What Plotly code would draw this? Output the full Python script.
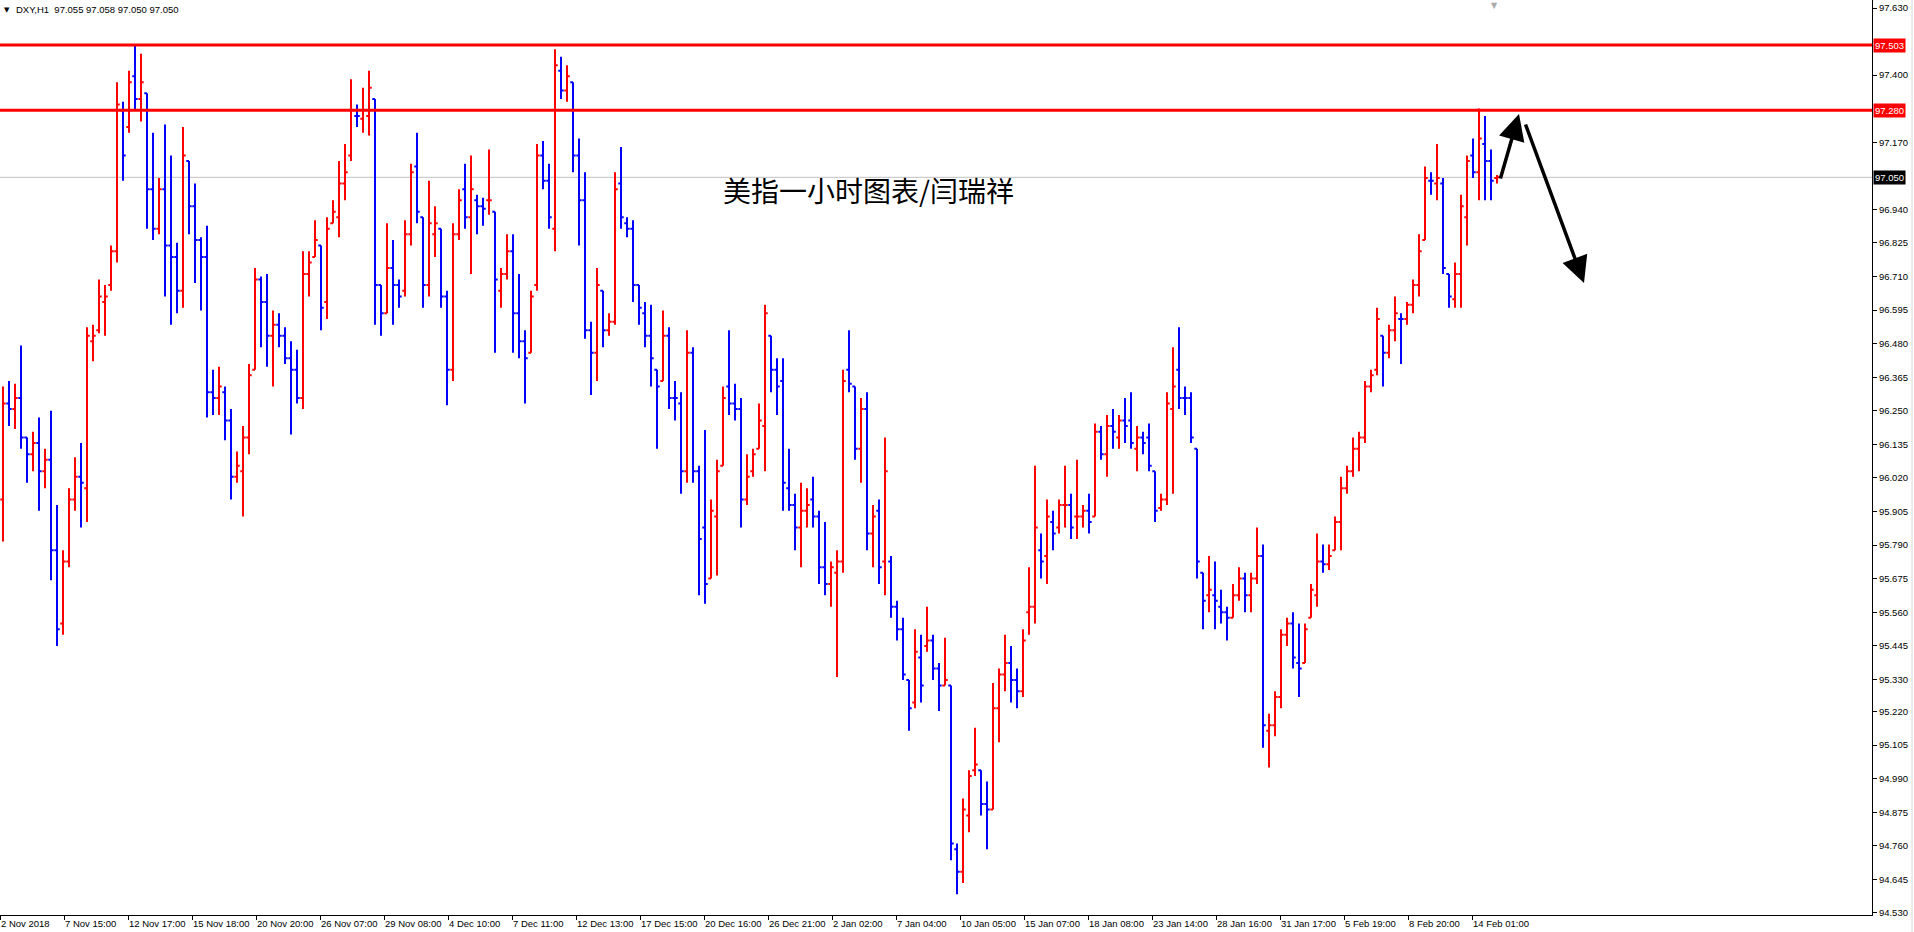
import plotly.graph_objects as go

# ---------------- data (DXY, H1 chart, condensed to one bar per 6 hourly bars) ----------------
bar_open = [
    95.946, 96.275, 96.256, 96.294, 96.159, 96.101, 96.140, 96.043, 96.082, 95.772,
    95.521, 95.734, 95.946, 96.024, 95.985, 96.488, 96.526, 96.623, 96.681, 96.797,
    97.280, 97.222, 97.396, 97.318, 97.338, 97.009, 96.874, 97.009, 96.816, 96.777,
    96.661, 97.106, 96.951, 96.835, 96.777, 96.314, 96.294, 96.314, 96.217, 96.024,
    96.043, 96.159, 96.391, 96.700, 96.623, 96.507, 96.545, 96.507, 96.430, 96.391,
    96.294, 96.719, 96.777, 96.816, 96.623, 96.893, 96.913, 97.029, 97.125, 97.260,
    97.251, 97.260, 97.318, 96.681, 96.584, 96.739, 96.681, 96.661, 96.855, 97.087,
    96.913, 96.681, 96.855, 96.874, 96.642, 96.391, 96.855, 97.009, 96.913, 96.971,
    96.951, 96.971, 96.932, 96.661, 96.719, 96.797, 96.584, 96.488, 96.449, 96.681,
    97.125, 97.038, 96.874, 97.415, 97.347, 97.376, 97.125, 96.971, 96.526, 96.449,
    96.661, 96.526, 96.555, 97.029, 96.893, 96.874, 96.681, 96.584, 96.507, 96.391,
    96.352, 96.507, 96.294, 96.275, 96.043, 96.449, 96.043, 95.850, 95.676, 95.888,
    96.062, 96.333, 96.275, 96.256, 95.946, 96.043, 96.120, 96.198, 96.507, 96.391,
    96.352, 95.985, 95.927, 95.850, 95.908, 95.946, 95.888, 95.714, 95.657, 95.695,
    95.734, 96.391, 96.333, 96.120, 96.256, 95.830, 95.908, 95.734, 95.734, 95.579,
    95.502, 95.328, 95.251, 95.405, 95.444, 95.463, 95.367, 95.309, 95.309, 94.748,
    94.671, 94.864, 95.019, 95.019, 94.903, 94.884, 95.231, 95.347, 95.386, 95.328,
    95.289, 95.560, 95.579, 95.772, 95.753, 95.869, 95.850, 95.927, 95.927, 95.888,
    95.888, 95.908, 95.888, 96.178, 96.101, 96.198, 96.159, 96.217, 96.217, 96.120,
    96.159, 96.159, 96.043, 95.917, 95.946, 96.256, 96.391, 96.294, 96.294, 96.120,
    95.695, 95.618, 95.618, 95.579, 95.560, 95.541, 95.618, 95.676, 95.618, 95.676,
    95.753, 95.154, 95.173, 95.270, 95.483, 95.521, 95.386, 95.386, 95.541, 95.618,
    95.734, 95.724, 95.772, 95.869, 95.985, 96.043, 96.120, 96.159, 96.333, 96.391,
    96.507, 96.449, 96.526, 96.565, 96.565, 96.613, 96.681, 96.835, 97.038, 97.029,
    97.029, 96.719, 96.632, 96.719, 96.913, 97.125, 97.067, 97.164, 97.106, 97.048,
]
bar_high = [
    96.333, 96.352, 96.343, 96.474, 96.159, 96.178, 96.227, 96.120, 96.250, 95.927,
    95.772, 95.985, 96.091, 96.140, 96.536, 96.545, 96.700, 96.681, 96.816, 97.376,
    97.309, 97.415, 97.502, 97.473, 97.338, 97.203, 97.048, 97.231, 97.125, 96.826,
    97.222, 97.106, 97.029, 96.845, 96.884, 96.391, 96.401, 96.333, 96.256, 96.111,
    96.198, 96.410, 96.739, 96.710, 96.719, 96.594, 96.584, 96.536, 96.488, 96.459,
    96.797, 96.797, 96.903, 96.816, 96.913, 96.971, 97.106, 97.164, 97.386, 97.299,
    97.357, 97.415, 97.318, 96.681, 96.893, 96.835, 96.700, 96.903, 97.096, 97.203,
    96.913, 97.038, 96.951, 96.874, 96.661, 96.893, 97.009, 97.096, 97.125, 96.990,
    96.980, 97.145, 96.932, 96.739, 96.855, 96.855, 96.719, 96.526, 96.661, 97.164,
    97.174, 97.096, 97.489, 97.463, 97.434, 97.376, 97.183, 97.067, 96.555, 96.739,
    96.661, 96.584, 97.067, 97.154, 96.913, 96.903, 96.681, 96.623, 96.613, 96.391,
    96.594, 96.536, 96.352, 96.314, 96.526, 96.468, 96.062, 96.184, 95.946, 96.082,
    96.333, 96.526, 96.343, 96.294, 96.101, 96.120, 96.275, 96.613, 96.507, 96.430,
    96.430, 96.120, 95.966, 96.004, 95.985, 96.024, 95.908, 95.869, 95.734, 95.772,
    96.391, 96.526, 96.333, 96.294, 96.314, 95.927, 95.946, 96.159, 95.753, 95.599,
    95.541, 95.328, 95.502, 95.483, 95.579, 95.483, 95.386, 95.473, 95.309, 94.768,
    94.922, 95.019, 95.164, 95.019, 94.980, 95.318, 95.367, 95.483, 95.444, 95.367,
    95.502, 95.714, 96.062, 95.830, 95.946, 95.908, 95.946, 96.062, 95.966, 96.082,
    95.927, 95.966, 96.207, 96.198, 96.236, 96.256, 96.236, 96.294, 96.314, 96.198,
    96.178, 96.207, 96.043, 95.966, 96.314, 96.468, 96.536, 96.333, 96.314, 96.120,
    95.695, 95.753, 95.734, 95.637, 95.579, 95.657, 95.714, 95.695, 95.695, 95.850,
    95.792, 95.212, 95.289, 95.502, 95.541, 95.560, 95.521, 95.521, 95.657, 95.830,
    95.792, 95.792, 95.888, 96.024, 96.062, 96.159, 96.178, 96.352, 96.391, 96.603,
    96.507, 96.545, 96.642, 96.584, 96.623, 96.700, 96.855, 97.087, 97.067, 97.164,
    97.048, 96.719, 96.758, 96.990, 97.125, 97.183, 97.286, 97.260, 97.145, 97.058,
]
bar_low = [
    95.802, 96.198, 96.188, 96.120, 96.004, 96.043, 95.908, 95.985, 95.670, 95.444,
    95.483, 95.714, 95.908, 95.850, 95.869, 96.420, 96.516, 96.507, 96.661, 96.758,
    97.038, 97.203, 97.280, 97.241, 96.874, 96.835, 96.855, 96.642, 96.545, 96.584,
    96.603, 96.855, 96.688, 96.594, 96.227, 96.236, 96.236, 96.149, 95.946, 96.004,
    95.888, 96.101, 96.391, 96.468, 96.401, 96.333, 96.468, 96.410, 96.169, 96.275,
    96.256, 96.642, 96.777, 96.526, 96.565, 96.893, 96.845, 96.971, 97.106, 97.222,
    97.203, 97.193, 96.545, 96.507, 96.584, 96.545, 96.603, 96.642, 96.816, 96.893,
    96.603, 96.642, 96.777, 96.603, 96.269, 96.352, 96.835, 96.874, 96.719, 96.855,
    96.884, 96.922, 96.449, 96.603, 96.700, 96.449, 96.430, 96.275, 96.449, 96.661,
    97.009, 96.874, 96.797, 97.318, 97.309, 97.067, 96.816, 96.497, 96.304, 96.352,
    96.468, 96.507, 96.545, 96.874, 96.845, 96.623, 96.545, 96.468, 96.333, 96.120,
    96.352, 96.256, 96.217, 95.966, 96.004, 96.004, 95.618, 95.589, 95.676, 95.686,
    96.062, 96.236, 96.217, 95.850, 95.927, 96.024, 96.120, 96.043, 96.314, 96.236,
    95.908, 95.908, 95.772, 95.714, 95.850, 95.850, 95.657, 95.618, 95.579, 95.338,
    95.695, 96.314, 96.082, 96.004, 95.772, 95.714, 95.657, 95.618, 95.541, 95.463,
    95.328, 95.154, 95.231, 95.251, 95.425, 95.328, 95.222, 95.309, 94.710, 94.594,
    94.632, 94.806, 94.999, 94.864, 94.748, 94.884, 95.115, 95.289, 95.251, 95.231,
    95.270, 95.483, 95.521, 95.676, 95.657, 95.772, 95.830, 95.850, 95.811, 95.811,
    95.850, 95.830, 95.888, 96.082, 96.024, 96.120, 96.120, 96.140, 96.120, 96.043,
    96.101, 96.043, 95.869, 95.908, 95.927, 95.966, 96.256, 96.236, 96.140, 95.676,
    95.502, 95.560, 95.502, 95.521, 95.463, 95.541, 95.599, 95.560, 95.560, 95.657,
    95.096, 95.028, 95.135, 95.231, 95.444, 95.367, 95.270, 95.386, 95.541, 95.579,
    95.695, 95.705, 95.772, 95.772, 95.966, 96.024, 96.043, 96.140, 96.314, 96.372,
    96.333, 96.430, 96.488, 96.410, 96.545, 96.584, 96.642, 96.835, 96.990, 96.971,
    96.719, 96.603, 96.603, 96.603, 96.816, 97.048, 96.971, 96.971, 96.971, 97.029,
]
bar_close = [
    96.275, 96.256, 96.294, 96.159, 96.101, 96.140, 96.043, 96.082, 95.772, 95.502,
    95.734, 95.946, 96.024, 96.004, 96.507, 96.507, 96.642, 96.642, 96.797, 97.299,
    97.125, 97.376, 97.318, 97.376, 97.009, 96.874, 97.009, 96.816, 96.777, 96.661,
    97.125, 96.951, 96.835, 96.777, 96.314, 96.294, 96.333, 96.217, 96.024, 96.062,
    96.159, 96.372, 96.700, 96.623, 96.507, 96.545, 96.507, 96.430, 96.391, 96.294,
    96.719, 96.758, 96.835, 96.603, 96.874, 96.932, 97.029, 97.067, 97.280, 97.260,
    97.280, 97.357, 96.681, 96.584, 96.739, 96.681, 96.642, 96.855, 97.067, 96.932,
    96.681, 96.893, 96.893, 96.642, 96.391, 96.855, 96.971, 96.913, 97.009, 96.951,
    96.942, 96.971, 96.700, 96.719, 96.797, 96.584, 96.488, 96.430, 96.642, 97.125,
    97.038, 96.913, 97.434, 97.347, 97.396, 97.125, 96.971, 96.526, 96.449, 96.681,
    96.526, 96.555, 97.009, 96.913, 96.874, 96.681, 96.603, 96.507, 96.430, 96.333,
    96.507, 96.294, 96.294, 96.043, 96.449, 96.043, 95.811, 95.657, 95.908, 96.043,
    96.294, 96.275, 96.256, 95.946, 96.024, 96.101, 96.217, 96.584, 96.391, 96.333,
    96.004, 95.927, 95.850, 95.908, 95.927, 95.888, 95.714, 95.657, 95.714, 95.734,
    96.352, 96.343, 96.120, 96.256, 95.830, 95.888, 95.714, 96.043, 95.579, 95.502,
    95.347, 95.231, 95.425, 95.309, 95.463, 95.367, 95.309, 95.328, 94.768, 94.671,
    94.884, 94.999, 95.038, 94.903, 94.884, 95.231, 95.347, 95.386, 95.328, 95.289,
    95.463, 95.579, 95.850, 95.734, 95.888, 95.830, 95.927, 95.927, 95.850, 95.888,
    95.908, 95.869, 96.178, 96.101, 96.198, 96.178, 96.217, 96.198, 96.140, 96.159,
    96.140, 96.062, 95.908, 95.946, 96.275, 96.333, 96.294, 96.294, 96.159, 95.734,
    95.599, 95.637, 95.599, 95.560, 95.541, 95.618, 95.676, 95.618, 95.676, 95.753,
    95.173, 95.173, 95.270, 95.483, 95.521, 95.405, 95.367, 95.502, 95.637, 95.734,
    95.724, 95.753, 95.869, 95.985, 96.043, 96.120, 96.159, 96.333, 96.372, 96.565,
    96.449, 96.526, 96.584, 96.565, 96.613, 96.681, 96.797, 97.048, 97.038, 97.048,
    96.739, 96.642, 96.719, 96.951, 97.106, 97.067, 97.183, 97.106, 97.038, 97.050,
]
# hourly bar number (from the left edge of the chart) at the middle of each 6-hour bar
bar_hour = [6 * i + 3 for i in range(len(bar_open))]

time_labels = ["2 Nov 2018", "7 Nov 15:00", "12 Nov 17:00", "15 Nov 18:00", "20 Nov 20:00",
               "26 Nov 07:00", "29 Nov 08:00", "4 Dec 10:00", "7 Dec 11:00", "12 Dec 13:00",
               "17 Dec 15:00", "20 Dec 16:00", "26 Dec 21:00", "2 Jan 02:00", "7 Jan 04:00",
               "10 Jan 05:00", "15 Jan 07:00", "18 Jan 08:00", "23 Jan 14:00", "28 Jan 16:00",
               "31 Jan 17:00", "5 Feb 19:00", "8 Feb 20:00", "14 Feb 01:00"]
label_hours = [64 * i for i in range(len(time_labels))]

price_ticks = [97.630, 97.400, 97.170, 96.940, 96.825, 96.710, 96.595, 96.480, 96.365,
               96.250, 96.135, 96.020, 95.905, 95.790, 95.675, 95.560, 95.445, 95.330,
               95.220, 95.105, 94.990, 94.875, 94.760, 94.645, 94.530]

level_lines = [97.503, 97.280]
bid_price = 97.050
header_text = "DXY,H1\u00a0\u00a097.055 97.058 97.050 97.050"
title_text = "美指一小时图表/闫瑞祥"

# ---------------- figure ----------------
AXFONT = "Liberation Sans, Arial, sans-serif"
FS = 9.5
fig = go.Figure()
fig.add_trace(go.Ohlc(
    x=bar_hour, open=bar_open, high=bar_high, low=bar_low, close=bar_close,
    increasing=dict(line=dict(color="#FF0000", width=2)),
    decreasing=dict(line=dict(color="#0000FF", width=2)),
    tickwidth=0.45, hoverinfo="skip",
))

shapes = []
for lv in level_lines:
    shapes.append(dict(type="line", xref="paper", x0=0, x1=1, yref="y", y0=lv, y1=lv,
                       line=dict(color="#FF0000", width=3), layer="above"))
shapes.append(dict(type="line", xref="paper", x0=0, x1=1, yref="y", y0=bid_price, y1=bid_price,
                   line=dict(color="#C0C0C0", width=1), layer="below"))
shapes.append(dict(type="line", xref="paper", x0=1.0214, x1=1.0214, yref="paper", y0=-0.02, y1=1,
                   line=dict(color="#D8D8D8", width=1)))

annotations = []
for lv in level_lines:
    annotations.append(dict(xref="paper", x=1, xanchor="left", xshift=1, yref="y", y=lv,
                            yanchor="middle", text=f"{lv:.3f}", showarrow=False,
                            bgcolor="#FF0000", borderpad=1,
                            font=dict(family=AXFONT, size=FS, color="white")))
annotations.append(dict(xref="paper", x=1, xanchor="left", xshift=1, yref="y", y=bid_price,
                        yanchor="middle", text=f"{bid_price:.3f}", showarrow=False,
                        bgcolor="#000000", borderpad=1,
                        font=dict(family=AXFONT, size=FS, color="white")))
annotations.append(dict(xref="paper", x=0, xanchor="left", xshift=2, yref="paper", y=1,
                        yanchor="top", yshift=-4, text="▼", showarrow=False,
                        font=dict(family="DejaVu Sans", size=7, color="black")))
annotations.append(dict(xref="paper", x=0, xanchor="left", xshift=14, yref="paper", y=1,
                        yanchor="top", yshift=-2, text=header_text, showarrow=False,
                        font=dict(family=AXFONT, size=FS, color="black")))
annotations.append(dict(xref="x", x=1494, yref="paper", y=1, yanchor="top", yshift=1,
                        text="▼", showarrow=False,
                        font=dict(family="DejaVu Sans", size=8, color="#A8A8A8")))
annotations.append(dict(xref="x", x=868, yref="y", y=97.006, text=title_text, showarrow=False,
                        font=dict(family="Noto Sans CJK SC", size=28, color="black")))
# hand-drawn arrows
annotations.append(dict(xref="x", yref="y", axref="x", ayref="y", x=1519, y=97.267,
                        ax=1500, ay=97.041, text="", showarrow=True, arrowhead=2,
                        arrowsize=1.5, arrowwidth=3.5, arrowcolor="black", standoff=0))
annotations.append(dict(xref="x", yref="y", axref="x", ayref="y", x=1584, y=96.688,
                        ax=1525, ay=97.236, text="", showarrow=True, arrowhead=2,
                        arrowsize=1.5, arrowwidth=3.5, arrowcolor="black", standoff=0))

fig.update_layout(
    width=1914, height=932,
    margin=dict(l=0, r=42, t=0, b=17, pad=0),
    paper_bgcolor="white", plot_bgcolor="white",
    showlegend=False,
    font=dict(family=AXFONT, size=FS, color="black"),
    shapes=shapes, annotations=annotations,
    xaxis=dict(range=[0, 1872], rangeslider=dict(visible=False), showgrid=False,
               zeroline=False, showline=True, mirror=True, linecolor="black", linewidth=1,
               ticks="outside", ticklen=4, tickcolor="black", tickvals=label_hours,
               ticktext=time_labels, ticklabelposition="outside right", tickangle=0,
               automargin=False,
               tickfont=dict(family=AXFONT, size=FS, color="black"), fixedrange=True),
    yaxis=dict(side="right", range=[94.5228, 97.6574], showgrid=False, zeroline=False,
               showline=True, mirror=True, linecolor="black", linewidth=1,
               ticks="outside", ticklen=4, tickcolor="black", tickvals=price_ticks,
               ticktext=[f"{v:.3f}" for v in price_ticks], automargin=False,
               tickfont=dict(family=AXFONT, size=FS, color="black"), fixedrange=True),
)

fig.write_html("out.html", config={"displayModeBar": False},
               post_script="document.body.style.margin='0';document.body.style.overflow='hidden';")
